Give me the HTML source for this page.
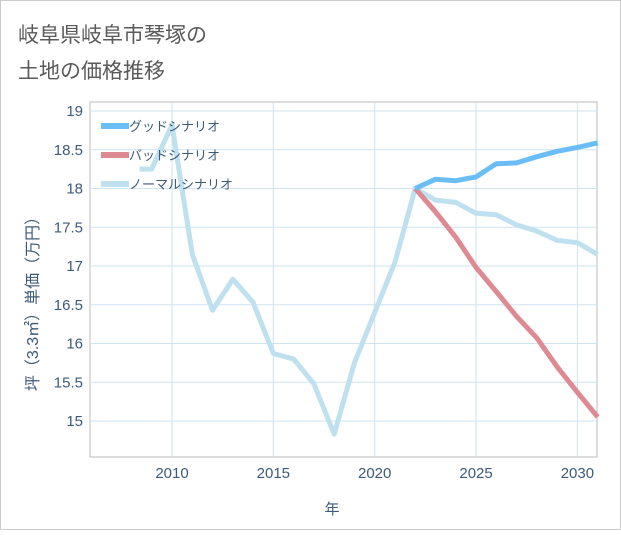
<!DOCTYPE html>
<html><head><meta charset="utf-8"><style>
body{margin:0;background:#fff;font-family:"Liberation Sans","Noto Sans CJK JP",sans-serif}
</style></head><body>
<svg width="621" height="530">
<rect x="0.5" y="0.5" width="620" height="529" fill="#fff" stroke="#ccc"/>
<text x="18" y="42" font-size="21" fill="#5a5a5a">岐阜県岐阜市琴塚の</text>
<text x="18" y="78" font-size="21" fill="#5a5a5a">土地の価格推移</text>
<g id="grid"></g>
<g id="series"></g>
<g id="legend"></g>
<text x="332" y="514" font-size="15" fill="#3d5a78" text-anchor="middle">年</text>
<text transform="translate(38,300) rotate(-90)" font-size="16" fill="#3d5a78" text-anchor="middle">坪（3.3㎡）単価（万円）</text>
</svg>
<script>
const xTicks=[2010,2015,2020,2025,2030];
const yTicks=[15,15.5,16,16.5,17,17.5,18,18.5,19];
const normalYears=[2008.4,2009,2010,2011,2012,2013,2014,2015,2016,2017,2018,2019,2020,2021,2022,2023,2024,2025,2026,2027,2028,2029,2030,2031];
const normalValues=[18.25,18.25,18.82,17.15,16.43,16.83,16.53,15.87,15.8,15.48,14.83,15.75,16.4,17.05,18.0,17.85,17.82,17.68,17.66,17.53,17.45,17.33,17.3,17.15];
const futureYears=[2022,2023,2024,2025,2026,2027,2028,2029,2030,2031];
const goodValues=[18.0,18.12,18.1,18.15,18.32,18.33,18.41,18.48,18.53,18.59];
const badValues=[18.0,17.7,17.37,16.98,16.67,16.35,16.07,15.7,15.37,15.05];
const L=90,R=597,T=102,B=457;
const xs=y=>172+(y-2010)*20.27;
const ys=v=>421-(v-15)*77.5;
const NS='http://www.w3.org/2000/svg';
function mk(t,a,p){const e=document.createElementNS(NS,t);for(const k in a)e.setAttribute(k,a[k]);p.appendChild(e);return e;}
const g=document.getElementById('grid');
const frame=mk('rect',{x:L,y:T,width:R-L,height:B-T,fill:'none',stroke:'#bbb'},g);


xTicks.forEach(t=>{const x=xs(t);
const l=mk('line',{x1:x,x2:x,y1:T,y2:B,stroke:'#cfe3f0'},g);


const tx=mk('text',{x:x,y:478,'font-size':15,fill:'#3d5a78','text-anchor':'middle'},g);tx.textContent=t;

});
yTicks.forEach(t=>{const y=ys(t);
const l=mk('line',{x1:L,x2:R,y1:y,y2:y,stroke:'#cfe3f0'},g);


const tx=mk('text',{x:83,y:y+5,'font-size':15,fill:'#3d5a78','text-anchor':'end'},g);tx.textContent=t;

});
const s=document.getElementById('series');
function line(xa,va,c,n){const d=xa.map((x,i)=>(i?'L':'M')+xs(x).toFixed(1)+','+ys(va[i]).toFixed(1)).join('');
const p=mk('path',{d:d,fill:'none',stroke:c,'stroke-width':5,'stroke-linejoin':'round'},s);

}
line(normalYears,normalValues,'#bfe0ef','normal-scenario-line');
line(futureYears,badValues,'#de8a92','bad-scenario-line');
line(futureYears,goodValues,'#6bbdf5','good-scenario-line');
const lg=document.getElementById('legend');
[['グッドシナリオ','#6bbdf5','legend-good'],['バッドシナリオ','#de8a92','legend-bad'],['ノーマルシナリオ','#bfe0ef','legend-normal']].forEach((e,i)=>{
const y=126+i*29;
const r=mk('rect',{x:101,y:y-3,width:28,height:6,fill:e[1]},lg);


const t=mk('text',{x:129,y:y+5,'font-size':13,fill:'#3d5a78'},lg);t.textContent=e[0];

});
</script>
</body></html>
